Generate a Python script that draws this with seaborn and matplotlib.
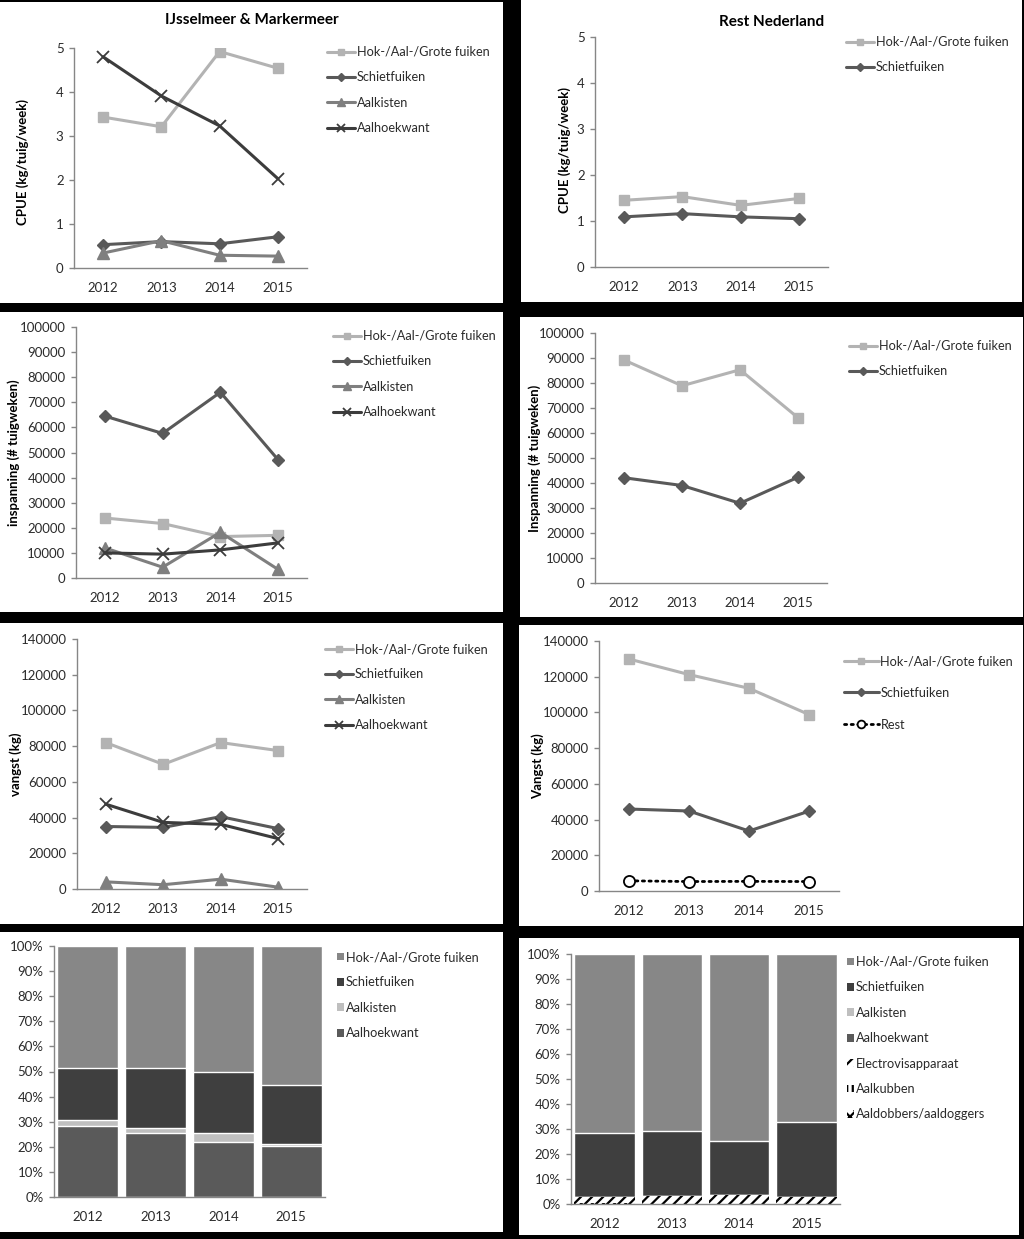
import numpy as np
import matplotlib
matplotlib.use("Agg")
import matplotlib.pyplot as plt
from matplotlib.patches import Rectangle, Patch
from matplotlib.ticker import FixedLocator, FuncFormatter
import seaborn as sns

# ---------------- data ----------------
years = ["2012", "2013", "2014", "2015"]

lbl_hok = "Hok-/Aal-/Grote fuiken"
lbl_schiet = "Schietfuiken"
lbl_aalkisten = "Aalkisten"
lbl_aalhoek = "Aalhoekwant"
lbl_electro = "Electrovisapparaat"
lbl_aalkubben = "Aalkubben"
lbl_aaldobbers = "Aaldobbers/aaldoggers"
lbl_rest = "Rest"

# CPUE (kg/tuig/week)
cpue_ijm_hok = [3.43, 3.21, 4.92, 4.54]
cpue_ijm_schiet = [0.53, 0.60, 0.55, 0.71]
cpue_ijm_aalkisten = [0.34, 0.62, 0.29, 0.27]
cpue_ijm_aalhoek = [4.80, 3.91, 3.23, 2.03]
cpue_rest_hok = [1.45, 1.53, 1.34, 1.49]
cpue_rest_schiet = [1.09, 1.16, 1.09, 1.05]

# inspanning (# tuigweken)
insp_ijm_hok = [23900, 21700, 16500, 17000]
insp_ijm_schiet = [64500, 57600, 74000, 47100]
insp_ijm_aalkisten = [12000, 4300, 18200, 3400]
insp_ijm_aalhoek = [10000, 9500, 11200, 14000]
insp_rest_hok = [89200, 78900, 85300, 66100]
insp_rest_schiet = [42100, 39000, 31900, 42300]

# vangst (kg)
vangst_ijm_hok = [82000, 69800, 82000, 77500]
vangst_ijm_schiet = [35000, 34500, 40500, 33800]
vangst_ijm_aalkisten = [4000, 2400, 5500, 1000]
vangst_ijm_aalhoek = [47500, 37300, 36200, 28200]
vangst_rest_hok = [129900, 121200, 113500, 98800]
vangst_rest_schiet = [45900, 44800, 33600, 44700]
vangst_rest_rest = [5700, 5300, 5400, 5300]

# aandeel in vangst (%)
aandeel_ijm_aalhoek = [28.1, 25.6, 22.0, 20.2]
aandeel_ijm_aalkisten = [2.5, 1.9, 3.3, 0.8]
aandeel_ijm_schiet = [20.9, 24.0, 24.4, 23.7]
aandeel_ijm_hok = [48.5, 48.5, 50.3, 55.3]

aandeel_rest_aaldobbers = [0.4, 0.1, 0.1, 0.1]
aandeel_rest_aalkubben = [0.2, 0.1, 0.1, 0.1]
aandeel_rest_electro = [2.3, 3.0, 3.4, 2.7]
aandeel_rest_aalhoek = [0.0, 0.0, 0.0, 0.0]
aandeel_rest_aalkisten = [0.0, 0.0, 0.0, 0.0]
aandeel_rest_schiet = [25.5, 26.1, 21.7, 29.9]
aandeel_rest_hok = [71.6, 70.7, 74.7, 67.2]

# ---------------- style ----------------
sns.set_style("white")
plt.rcParams["font.family"] = ["Lato", "DejaVu Sans"]
plt.rcParams["hatch.linewidth"] = 1.6

TXT = "#2b2b2b"
AXC = "#868686"
C_HOK_L, C_SCH_L, C_KIS_L, C_HOEK_L = "#b3b3b3", "#595959", "#7f7f7f", "#3c3c3c"
C_HOK_B, C_SCH_B, C_KIS_B, C_HOEK_B = "#878787", "#3f3f3f", "#bfbfbf", "#5a5a5a"
FS = 9.5
LFS = 9.2

W, H = 1024, 1239
fig = plt.figure(figsize=(W / 100, H / 100), dpi=100, facecolor="black")


def box(x0, y0, x1, y1):
    fig.add_artist(Rectangle((x0 / W, 1 - y1 / H), (x1 - x0) / W, (y1 - y0) / H,
                             transform=fig.transFigure, facecolor="white",
                             edgecolor="none", zorder=-5))


def make_ax(x0, x1, ytop, ybot):
    ax = fig.add_axes([x0 / W, 1 - ybot / H, (x1 - x0) / W, (ybot - ytop) / H])
    ax.set_facecolor("none")
    return ax


def style(ax, ymax, ystep, pct=False):
    ax.set_xlim(-0.5, len(years) - 0.5)
    ax.set_ylim(0, ymax)
    ax.set_yticks(np.arange(0, ymax + ystep / 2, ystep))
    ax.set_xticks(range(len(years)))
    ax.set_xticklabels(years)
    ax.xaxis.set_minor_locator(FixedLocator(np.arange(-0.5, len(years), 1.0)))
    if pct:
        ax.yaxis.set_major_formatter(FuncFormatter(lambda v, p: f"{v:.0f}%"))
    for s in ("top", "right"):
        ax.spines[s].set_visible(False)
    for s in ("left", "bottom"):
        ax.spines[s].set_color(AXC)
        ax.spines[s].set_linewidth(1.0)
    ax.tick_params(axis="x", which="major", length=0, pad=10, labelsize=FS, labelcolor=TXT)
    ax.tick_params(axis="x", which="minor", length=4, width=1, color=AXC, direction="out")
    ax.tick_params(axis="y", which="major", length=3.5, width=1, color=AXC, direction="out",
                   pad=4, labelsize=FS, labelcolor=TXT, left=True)
    ax.set_xlabel("")
    ax.grid(False)


def ylabel(ax, text, x_px, ax_x0, ax_w, yfrac=0.5):
    ax.set_ylabel(text, fontsize=FS, fontweight="bold", color="black")
    ax.yaxis.set_label_coords((x_px - ax_x0) / ax_w, yfrac)


def line(ax, vals, color, marker, ms, mew=1.0, mfc=None, mec=None, ls="-", lw=2.2):
    sns.lineplot(x=years, y=vals, ax=ax, color=color, marker=marker, markersize=ms,
                 markerfacecolor=color if mfc is None else mfc,
                 markeredgecolor=color if mec is None else mec,
                 markeredgewidth=mew, linestyle=ls, linewidth=lw, legend=False,
                 errorbar=None, sort=False)
    return ax.lines[-1]


def legend(ax, handles, labels, x_px, y_px, hl=2.2, spacing=1.05, markerscale=0.7, hh=0.7):
    ax.legend(handles, labels, loc="upper left", bbox_to_anchor=(x_px / W, 1 - y_px / H),
              bbox_transform=fig.transFigure, frameon=False, borderpad=0, borderaxespad=0,
              handlelength=hl, handleheight=hh, handletextpad=0.15, labelspacing=spacing,
              fontsize=LFS, numpoints=1, markerscale=markerscale, labelcolor=TXT)


def four_lines(ax, hok, sch, kis, hoek):
    h1 = line(ax, hok, C_HOK_L, "s", 7)
    h2 = line(ax, sch, C_SCH_L, "D", 6.5)
    h3 = line(ax, kis, C_KIS_L, "^", 8)
    h4 = line(ax, hoek, C_HOEK_L, "x", 8, mew=1.3)
    return [h1, h2, h3, h4], [lbl_hok, lbl_schiet, lbl_aalkisten, lbl_aalhoek]


def two_lines(ax, hok, sch):
    h1 = line(ax, hok, C_HOK_L, "s", 7)
    h2 = line(ax, sch, C_SCH_L, "D", 6.5)
    return [h1, h2], [lbl_hok, lbl_schiet]


# ---------------- panel backgrounds ----------------
box(0, 2, 503, 303)
box(521, 0, 1022, 302)
box(0, 312, 503, 612)
box(520, 317, 1023, 617)
box(0, 623, 503, 924)
box(519, 625, 1023, 926)
box(0, 932, 503, 1232)
box(519, 938, 1019, 1235)

# ---------------- Panel 1: CPUE IJsselmeer ----------------
ax = make_ax(74, 307, 48, 268)
hs, ls_ = four_lines(ax, cpue_ijm_hok, cpue_ijm_schiet, cpue_ijm_aalkisten, cpue_ijm_aalhoek)
style(ax, 5, 1)
ylabel(ax, "CPUE (kg/tuig/week)", 29, 74, 233, 0.48)
legend(ax, hs, ls_, 327, 46)
fig.text(252 / W, 1 - 20 / H, "IJsselmeer & Markermeer", ha="center", va="center",
         fontsize=11, fontweight="bold", color="black")

# ---------------- Panel 2: CPUE Rest ----------------
ax = make_ax(595, 828, 37, 267)
hs, ls_ = two_lines(ax, cpue_rest_hok, cpue_rest_schiet)
style(ax, 5, 1)
ylabel(ax, "CPUE (kg/tuig/week)", 571, 595, 233, 0.51)
legend(ax, hs, ls_, 846, 36)
fig.text(772 / W, 1 - 22 / H, "Rest Nederland", ha="center", va="center",
         fontsize=11, fontweight="bold", color="black")

# ---------------- Panel 3: inspanning IJsselmeer ----------------
ax = make_ax(76, 307, 327, 578)
hs, ls_ = four_lines(ax, insp_ijm_hok, insp_ijm_schiet, insp_ijm_aalkisten, insp_ijm_aalhoek)
style(ax, 100000, 10000)
ylabel(ax, "inspanning (# tuigweken)", 20, 76, 231)
legend(ax, hs, ls_, 333, 330)

# ---------------- Panel 4: inspanning Rest ----------------
ax = make_ax(595, 827, 333, 583)
hs, ls_ = two_lines(ax, insp_rest_hok, insp_rest_schiet)
style(ax, 100000, 10000)
ylabel(ax, "Inspanning (# tuigweken)", 541, 595, 232)
legend(ax, hs, ls_, 849, 340)

# ---------------- Panel 5: vangst IJsselmeer ----------------
ax = make_ax(77, 307, 639, 889)
hs, ls_ = four_lines(ax, vangst_ijm_hok, vangst_ijm_schiet, vangst_ijm_aalkisten, vangst_ijm_aalhoek)
style(ax, 140000, 20000)
ylabel(ax, "vangst (kg)", 22, 77, 230)
legend(ax, hs, ls_, 325, 643)

# ---------------- Panel 6: vangst Rest ----------------
ax = make_ax(599, 839, 641, 891)
hs, ls_ = two_lines(ax, vangst_rest_hok, vangst_rest_schiet)
h3 = line(ax, vangst_rest_rest, "black", "o", 8, mew=1.3, mfc="white", mec="black",
          ls=(0, (0.8, 1.6)), lw=2.0)
h3.set_dash_capstyle("round")
style(ax, 140000, 20000)
ylabel(ax, "Vangst (kg)", 544, 599, 240)
legend(ax, hs + [h3], ls_ + [lbl_rest], 844, 655, hl=2.7, spacing=1.55)


# ---------------- stacked bars ----------------
def stacked(ax, series, colors, hatches):
    cum = np.cumsum(np.array(series, dtype=float), axis=0)
    for i in range(len(series) - 1, -1, -1):
        face = colors[i]
        kw = {}
        if hatches[i]:
            kw = dict(hatch=hatches[i], edgecolor="black", linewidth=0)
        sns.barplot(x=years, y=cum[i], ax=ax, color=face, saturation=1, width=0.9,
                    errorbar=None, **kw)


# Panel 7
ax = make_ax(54, 325, 946, 1197)
stacked(ax,
        [aandeel_ijm_aalhoek, aandeel_ijm_aalkisten, aandeel_ijm_schiet, aandeel_ijm_hok],
        [C_HOEK_B, C_KIS_B, C_SCH_B, C_HOK_B], [None, None, None, None])
style(ax, 100, 10, pct=True)
ax.set_ylabel("")
ph = [Patch(facecolor=c, edgecolor="none") for c in (C_HOK_B, C_SCH_B, C_KIS_B, C_HOEK_B)]
legend(ax, ph, [lbl_hok, lbl_schiet, lbl_aalkisten, lbl_aalhoek], 337, 951,
       hl=0.55, hh=0.55, spacing=1.05, markerscale=1)

# Panel 8
ax = make_ax(571, 840, 954, 1204)
stacked(ax,
        [aandeel_rest_aaldobbers, aandeel_rest_aalkubben, aandeel_rest_electro,
         aandeel_rest_aalhoek, aandeel_rest_aalkisten, aandeel_rest_schiet, aandeel_rest_hok],
        ["white", "white", "white", C_HOEK_B, C_KIS_B, C_SCH_B, C_HOK_B],
        ["xxx", "|||", "///", None, None, None, None])
style(ax, 100, 10, pct=True)
ax.set_ylabel("")
ph = [Patch(facecolor=c, edgecolor="none") for c in (C_HOK_B, C_SCH_B, C_KIS_B, C_HOEK_B)]
ph += [Patch(facecolor="white", edgecolor="black", hatch=h, linewidth=0) for h in ("///", "|||", "xxx")]
legend(ax, ph, [lbl_hok, lbl_schiet, lbl_aalkisten, lbl_aalhoek, lbl_electro, lbl_aalkubben,
                lbl_aaldobbers], 847, 956, hl=0.55, hh=0.55, spacing=1.05, markerscale=1)

fig.savefig("out.png", dpi=100, facecolor="black")
